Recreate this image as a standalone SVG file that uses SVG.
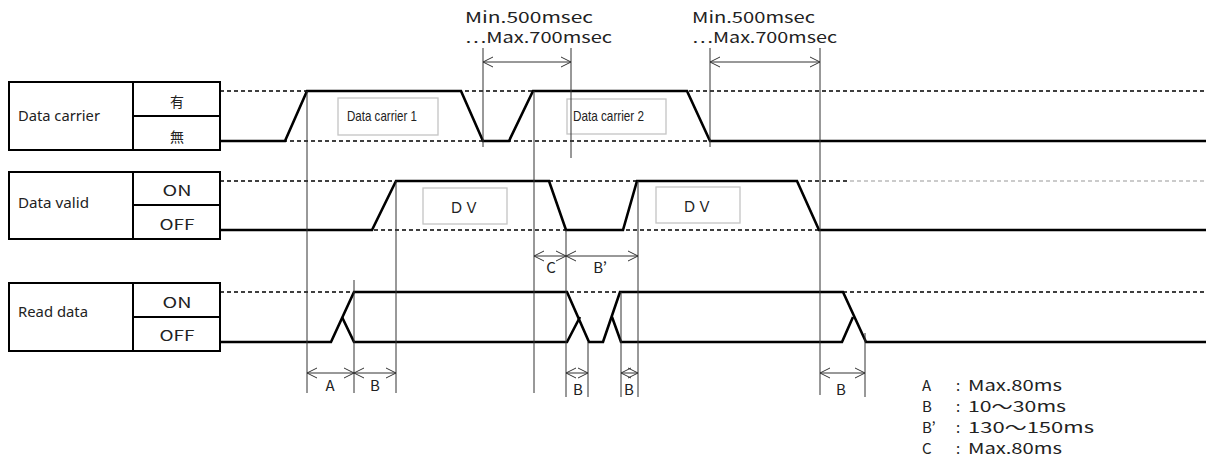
<svg xmlns="http://www.w3.org/2000/svg" width="1206" height="461" viewBox="0 0 1206 461">
<style>
.box{fill:none;stroke:#000;stroke-width:2}
.sig{fill:none;stroke:#000;stroke-width:2.6;stroke-linejoin:miter}
.dash{fill:none;stroke:#000;stroke-width:1.3;stroke-dasharray:4 3}
.dashg{fill:none;stroke:#bbb;stroke-width:1.3;stroke-dasharray:4 3}
.vl{fill:none;stroke:#333;stroke-width:1}
.arr{fill:none;stroke:#333;stroke-width:1;marker-start:url(#ah);marker-end:url(#ah)}
.lbl{font-family:"Noto Sans","Open Sans",sans-serif;font-size:14.5px;fill:#222}
.cell{font-family:"Noto Sans CJK JP","Noto Sans",sans-serif;font-size:14px;fill:#222;text-anchor:middle}
.t{font-family:"Noto Sans CJK JP","Noto Sans",sans-serif;font-size:15px;fill:#222}
.tm{font-family:"Noto Sans CJK JP","Noto Sans",sans-serif;font-size:15px;fill:#222;text-anchor:middle}
.nb{fill:#fff;stroke:#c4c4c4;stroke-width:1.3}
.nt{font-family:"Liberation Sans Narrow","Liberation Sans",sans-serif;font-size:15px;fill:#222}
</style>
<defs>
<marker id="ah" viewBox="-11 -6 12 12" markerWidth="12" markerHeight="12" refX="0" refY="0" orient="auto-start-reverse" markerUnits="userSpaceOnUse">
<path d="M-10,-5 L0,0 L-10,5" fill="none" stroke="#333" stroke-width="1"/>
</marker>
</defs>

<g id="row-data-carrier">
<rect class="box" x="9" y="82" width="211" height="68"/>
<line class="box" x1="133" y1="82" x2="133" y2="150"/>
<line class="box" x1="133" y1="116" x2="220" y2="116"/>
<text class="lbl" x="18" y="121" textLength="82" lengthAdjust="spacingAndGlyphs">Data carrier</text>
<text class="cell" x="177" y="107">有</text>
<text class="cell" x="177" y="142">無</text>
</g>

<g id="row-data-valid">
<rect class="box" x="9" y="172" width="211" height="67"/>
<line class="box" x1="133" y1="172" x2="133" y2="239"/>
<line class="box" x1="133" y1="205" x2="220" y2="205"/>
<text class="lbl" x="18" y="208" textLength="71" lengthAdjust="spacingAndGlyphs">Data valid</text>
<text class="cell" x="177" y="196" font-size="15" textLength="29" lengthAdjust="spacingAndGlyphs">ON</text>
<text class="cell" x="177" y="230" font-size="15" textLength="35" lengthAdjust="spacingAndGlyphs">OFF</text>
</g>

<g id="row-read-data">
<rect class="box" x="9" y="283" width="211" height="68"/>
<line class="box" x1="133" y1="283" x2="133" y2="351"/>
<line class="box" x1="133" y1="317" x2="220" y2="317"/>
<text class="lbl" x="18" y="317" textLength="70" lengthAdjust="spacingAndGlyphs">Read data</text>
<text class="cell" x="177" y="308" font-size="15" textLength="29" lengthAdjust="spacingAndGlyphs">ON</text>
<text class="cell" x="177" y="341" font-size="15" textLength="35" lengthAdjust="spacingAndGlyphs">OFF</text>
</g>

<g id="guides">
<line class="dash" x1="220" y1="91" x2="1206" y2="91"/>
<line class="dash" x1="220" y1="141" x2="1206" y2="141"/>
<line class="dash" x1="220" y1="181" x2="850" y2="181"/>
<line class="dashg" x1="850" y1="181" x2="1206" y2="181"/>
<line class="dash" x1="220" y1="230" x2="1206" y2="230"/>
<line class="dash" x1="220" y1="292" x2="1206" y2="292"/>
</g>

<g id="carrier-boxes">
<rect class="nb" x="338" y="98" width="100" height="37"/>
<text class="nt" x="347" y="121" textLength="70" lengthAdjust="spacingAndGlyphs">Data carrier 1</text>
<rect class="nb" x="567" y="99" width="99" height="35"/>
<text class="nt" x="573" y="121" textLength="71" lengthAdjust="spacingAndGlyphs">Data carrier 2</text>
</g>

<g id="dv-boxes">
<rect class="nb" x="423" y="188" width="84" height="36"/>
<text class="tm" x="464" y="213">ＤＶ</text>
<rect class="nb" x="656" y="187" width="84" height="36"/>
<text class="tm" x="697" y="212">ＤＶ</text>
</g>

<g id="waveforms">
<polyline class="sig" points="220,141 285,141 307,91 461,91 483,141 509,141 533,91 687,91 710,141 1206,141"/>
<polyline class="sig" points="220,230 372,230 396,181 549,181 566,230 623,230 637,181 797,181 819,230 1206,230"/>
<polyline class="sig" points="220,342 331,342 354,292 567,292 589,342 603,342 620,292 843,292 866,342 1206,342"/>
<polyline class="sig" points="342,317 354,342 567,342 580,317"/>
<polyline class="sig" points="612,317 621,342 842,342 853,317"/>
</g>

<g id="connectors">
<line class="vl" x1="307" y1="91" x2="307" y2="393"/>
<line class="vl" x1="354" y1="280" x2="354" y2="393"/>
<line class="vl" x1="396" y1="181" x2="396" y2="393"/>
<line class="vl" x1="483" y1="48" x2="483" y2="147"/>
<line class="vl" x1="534" y1="91" x2="534" y2="393"/>
<line class="vl" x1="566" y1="230" x2="566" y2="397"/>
<line class="vl" x1="571" y1="48" x2="571" y2="158"/>
<line class="vl" x1="588" y1="342" x2="588" y2="397"/>
<line class="vl" x1="621" y1="292" x2="621" y2="397"/>
<line class="vl" x1="638" y1="181" x2="638" y2="397"/>
<line class="vl" x1="710" y1="48" x2="710" y2="147"/>
<line class="vl" x1="820" y1="48" x2="820" y2="395"/>
<line class="vl" x1="865" y1="333" x2="865" y2="397"/>

<line class="arr" x1="483" y1="62" x2="571" y2="62"/>
<line class="arr" x1="710" y1="62" x2="820" y2="62"/>
<line class="arr" x1="307" y1="373" x2="354" y2="373"/>
<line class="arr" x1="354" y1="373" x2="396" y2="373"/>
<line class="arr" x1="534" y1="256" x2="566" y2="256"/>
<line class="arr" x1="566" y1="256" x2="638" y2="256"/>
<line class="arr" x1="566" y1="373" x2="588" y2="373"/>
<line class="arr" x1="621" y1="373" x2="638" y2="373"/>
<line class="arr" x1="820" y1="373" x2="865" y2="373"/>
</g>

<g id="timing-labels">
<text class="t" x="465" y="23" textLength="128" lengthAdjust="spacingAndGlyphs">Min.500msec</text>
<text class="t" x="465" y="43" textLength="147" lengthAdjust="spacingAndGlyphs">…Max.700msec</text>
<text class="t" x="692" y="23" textLength="123" lengthAdjust="spacingAndGlyphs">Min.500msec</text>
<text class="t" x="692" y="43" textLength="145" lengthAdjust="spacingAndGlyphs">…Max.700msec</text>
<text class="tm" x="330" y="391">A</text>
<text class="tm" x="375" y="391">B</text>
<text class="tm" x="551" y="273">C</text>
<text class="tm" x="600" y="273">B’</text>
<text class="tm" x="578" y="395">B</text>
<text class="tm" x="629" y="395">B</text>
<text class="tm" x="841" y="395">B</text>
</g>

<g id="legend">
<text class="t" x="922" y="391">A</text>
<text class="t" x="956" y="391">:</text>
<text class="t" x="968" y="391" textLength="94" lengthAdjust="spacingAndGlyphs">Max.80ms</text>
<text class="t" x="922" y="412">B</text>
<text class="t" x="956" y="412">:</text>
<text class="t" x="968" y="412" textLength="98" lengthAdjust="spacingAndGlyphs">10～30ms</text>
<text class="t" x="922" y="433">B’</text>
<text class="t" x="956" y="433">:</text>
<text class="t" x="968" y="433" textLength="126" lengthAdjust="spacingAndGlyphs">130～150ms</text>
<text class="t" x="922" y="454">C</text>
<text class="t" x="956" y="454">:</text>
<text class="t" x="968" y="454" textLength="94" lengthAdjust="spacingAndGlyphs">Max.80ms</text>
</g>
</svg>
